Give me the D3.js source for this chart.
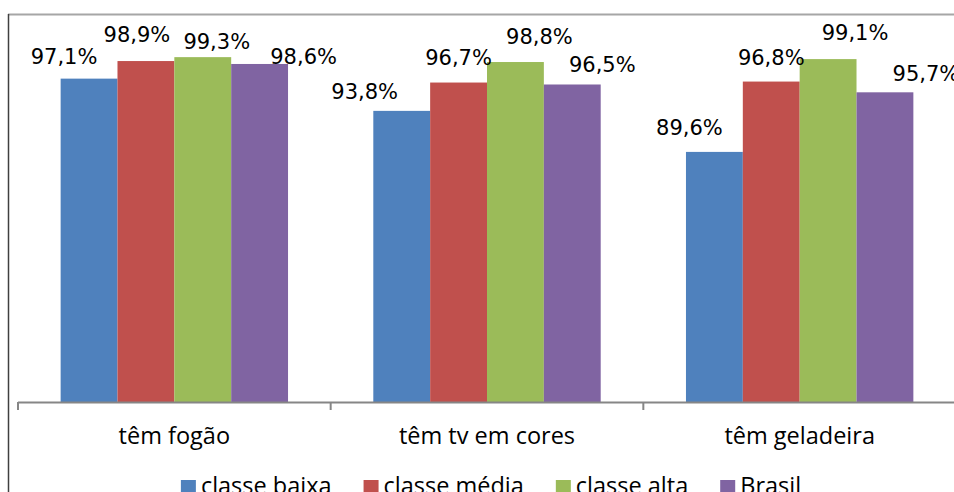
<!DOCTYPE html>
<html>
<head>
<meta charset="utf-8">
<script src="https://cdn.jsdelivr.net/npm/d3@7"></script>
<style>
  body { margin: 0; background: #fff; }
  svg { display: block; }
</style>
</head>
<body>
<svg id="chart" width="954" height="492"></svg>
<script>
// Data
const categories = ["têm fogão", "têm tv em cores", "têm geladeira"];
const series = ["classe baixa", "classe média", "classe alta", "Brasil"];
const classeBaixa = [97.1, 93.8, 89.6];
const classeMedia = [98.9, 96.7, 96.8];
const classeAlta = [99.3, 98.8, 99.1];
const brasil = [98.6, 96.5, 95.7];
const values = [classeBaixa, classeMedia, classeAlta, brasil];

const colors = ["#4f81bd", "#c0504d", "#9bbb59", "#8064a2"];

// labels were dragged by hand in the original, so nudge them (per series, per category)
const labelDx = [[-25, -37, -25], [-9, 0, 0], [14, 24, 27], [44, 30, 41]];
const labelDy = [[-15, -12, -17], [-19, -18, -17], [-8, -18, -19], [0, -12, -11]];

const width = 954;
const height = 492;
const axisY = 402;

const svg = d3.select("#chart");

// Outer frame (only top and left edges visible in the crop)
svg.append("line")
    .attr("x1", 8).attr("x2", width).attr("y1", 14.5).attr("y2", 14.5)
    .attr("stroke", "#a6a6a6").attr("stroke-width", 2);
svg.append("line")
    .attr("x1", 8.5).attr("x2", 8.5).attr("y1", 14).attr("y2", height)
    .attr("stroke", "#404040").attr("stroke-width", 1.5);

// Scales
const x0 = d3.scaleBand()
    .domain(categories)
    .range([18, 956])
    .padding(0);

const x1 = d3.scaleBand()
    .domain(series)
    .range([0, x0.bandwidth()])
    .paddingInner(0)
    .paddingOuter(0.75);

const y = d3.scaleLinear()
    .domain([64, 100])
    .range([axisY, 50.3]);

// Bars
const rows = [];
series.forEach((s, si) => {
    categories.forEach((c, ci) => {
        rows.push({ s, si, c, ci, v: values[si][ci] });
    });
});

svg.append("g")
    .selectAll("rect")
    .data(rows)
    .join("rect")
    .attr("x", d => x0(d.c) + x1(d.s))
    .attr("y", d => y(d.v))
    .attr("width", x1.bandwidth())
    .attr("height", d => axisY - y(d.v))
    .attr("fill", d => colors[d.si]);

// Value labels
svg.append("g")
    .selectAll("text")
    .data(rows)
    .join("text")
    .attr("x", d => x0(d.c) + x1(d.s) + x1.bandwidth() / 2 + labelDx[d.si][d.ci])
    .attr("y", d => y(d.v) + labelDy[d.si][d.ci])
    .attr("text-anchor", "middle")
    .style("font-family", "'DejaVu Sans', Verdana, sans-serif")
    .style("font-size", "21px")
    .attr("fill", "#000")
    .text(d => d.v.toFixed(1).replace(".", ",") + "%");

// Category axis: line, ticks at band boundaries, labels centred
const axis = svg.append("g");
axis.append("line")
    .attr("x1", 18).attr("x2", width).attr("y1", axisY + 0.5).attr("y2", axisY + 0.5)
    .attr("stroke", "#868686").attr("stroke-width", 2);
axis.selectAll(".tick")
    .data(categories)
    .join("line")
    .attr("class", "tick")
    .attr("x1", d => x0(d)).attr("x2", d => x0(d))
    .attr("y1", axisY).attr("y2", axisY + 8)
    .attr("stroke", "#868686").attr("stroke-width", 2);
axis.selectAll(".cat")
    .data(categories)
    .join("text")
    .attr("class", "cat")
    .attr("x", d => x0(d) + x0.bandwidth() / 2)
    .attr("y", 444)
    .attr("text-anchor", "middle")
    .style("font-family", "'Open Sans', sans-serif")
    .style("font-size", "23.5px")
    .attr("fill", "#000")
    .text(d => d);

// Legend
const legend = svg.append("g");
const items = legend.selectAll("g")
    .data(series)
    .join("g");
items.append("rect")
    .attr("width", 15).attr("height", 15)
    .attr("y", 480)
    .attr("fill", (d, i) => colors[i]);
items.append("text")
    .attr("x", 20)
    .attr("y", 494)
    .style("font-family", "'Open Sans', sans-serif")
    .style("font-size", "23.5px")
    .attr("fill", "#000")
    .text(d => d);

let lx = 0;
const offsets = [];
items.each(function () {
    offsets.push(lx);
    const tw = d3.select(this).select("text").node().getComputedTextLength();
    lx += 20 + tw + 32;
});
const legendW = lx - 32;
const legendX = 491 - legendW / 2;
items.attr("transform", (d, i) => `translate(${legendX + offsets[i]},0)`);
</script>
</body>
</html>
